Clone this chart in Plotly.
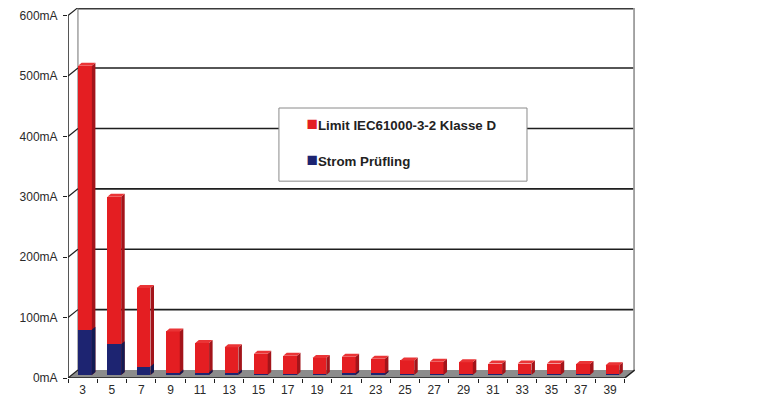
"""Harmonic currents vs. IEC61000-3-2 class D limit, drawn as pseudo-3D columns."""

import plotly.graph_objects as go

# Data
harmonics = [3, 5, 7, 9, 11, 13, 15, 17, 19, 21, 23, 25, 27, 29, 31, 33, 35, 37, 39]
limit_ma = [512, 295, 144, 72, 53, 46, 35, 32, 28, 30, 27, 24, 22, 21, 19, 19, 19, 18, 16]
strom_ma = [75, 51, 14, 4, 4, 4, 1, 1, 1, 3, 2, 1, 1, 1, 1, 1, 1, 1, 1]
y_ticks = [0, 100, 200, 300, 400, 500, 600]

# Pseudo-3D geometry (in axis units)
depth_x = 0.34      # floor / back wall offset to the right
depth_y = 13.2      # floor / back wall offset upward (mA)
bar_w = 0.47
bar_shift = 0.08
bar_base = 5.0
side_dx = 0.12
side_dy = 5.0
x_max = 18.85
y_max = 612.6

idx = list(range(len(harmonics)))
xc = [i + bar_shift for i in idx]


def side_faces(values):
    xs, ys = [], []
    for x, v in zip(xc, values):
        xr = x + bar_w / 2
        top = bar_base + v
        xs += [xr, xr + side_dx, xr + side_dx, xr, xr, None]
        ys += [bar_base, bar_base + side_dy, top + side_dy, top, bar_base, None]
    return xs, ys


def top_faces(values):
    xs, ys = [], []
    for x, v in zip(xc, values):
        xl, xr = x - bar_w / 2, x + bar_w / 2
        top = bar_base + v
        xs += [xl, xr, xr + side_dx, xl + side_dx, xl, None]
        ys += [top, top, top + side_dy, top + side_dy, top, None]
    return xs, ys


red, red_side, red_top = "#e41e22", "#a3141a", "#ea3436"
blue, blue_side = "#1d2471", "#131a52"

fig = go.Figure()

fig.add_trace(go.Bar(
    x=xc, y=limit_ma, base=bar_base, width=bar_w,
    marker=dict(color=red, line=dict(width=0)),
    legendgroup="limit", showlegend=False,
    customdata=harmonics, hovertemplate="H%{customdata}: %{y} mA<extra></extra>",
))
sx, sy = side_faces(limit_ma)
fig.add_trace(go.Scatter(x=sx, y=sy, fill="toself", fillcolor=red_side, mode="lines",
                         line=dict(width=0), legendgroup="limit", showlegend=False,
                         hoverinfo="skip"))
tx, ty = top_faces(limit_ma)
fig.add_trace(go.Scatter(x=tx, y=ty, fill="toself", fillcolor=red_top, mode="lines",
                         line=dict(width=0), legendgroup="limit", showlegend=False,
                         hoverinfo="skip"))

fig.add_trace(go.Bar(
    x=xc, y=strom_ma, base=bar_base, width=bar_w,
    marker=dict(color=blue, line=dict(width=0)),
    legendgroup="strom", showlegend=False,
    customdata=harmonics, hovertemplate="H%{customdata}: %{y} mA<extra></extra>",
))
sx, sy = side_faces(strom_ma)
fig.add_trace(go.Scatter(x=sx, y=sy, fill="toself", fillcolor=blue_side, mode="lines",
                         line=dict(width=0), legendgroup="strom", showlegend=False,
                         hoverinfo="skip"))

# legend entries (square drawn in the text, right next to the label)
sq = "<span style='color:{};font-size:19px'>■</span>"
fig.add_trace(go.Scatter(
    x=[None], y=[None], mode="markers", legendgroup="limit",
    name=sq.format(red) + "Limit IEC61000-3-2 Klasse D",
    marker=dict(symbol="square", size=1, color="rgba(0,0,0,0)")))
fig.add_trace(go.Scatter(
    x=[None], y=[None], mode="markers", legendgroup="strom",
    name=sq.format(blue) + "Strom Prüfling",
    marker=dict(symbol="square", size=1, color="rgba(0,0,0,0)")))

shapes = []
# floor
shapes.append(dict(type="path", xref="x", yref="y", layer="below",
                   path=f"M -0.5,0 L 18.5,0 L {18.5 + depth_x},{depth_y} L {-0.5 + depth_x},{depth_y} Z",
                   fillcolor="#8c8c8c", line=dict(width=0)))
# back wall grid lines
for v in y_ticks[1:-1]:
    shapes.append(dict(type="line", xref="x", yref="y", layer="below",
                       x0=-0.5 + depth_x, x1=x_max, y0=v + depth_y, y1=v + depth_y,
                       line=dict(color="#1e1e1e", width=1.6)))
shapes.append(dict(type="line", xref="x", yref="y", layer="below",
                   x0=-0.5 + depth_x, x1=x_max, y0=y_max - 0.8, y1=y_max - 0.8,
                   line=dict(color="#3a3a3a", width=2)))
# back wall left and right edges
shapes.append(dict(type="line", xref="x", yref="y", layer="below",
                   x0=-0.5 + depth_x, x1=-0.5 + depth_x, y0=depth_y, y1=y_max,
                   line=dict(color="#707070", width=1)))
shapes.append(dict(type="line", xref="x", yref="y", layer="below",
                   x0=x_max - 0.03, x1=x_max - 0.03, y0=depth_y, y1=y_max,
                   line=dict(color="#a0a0a0", width=2)))
# front axes
shapes.append(dict(type="line", xref="x", yref="y", x0=-0.5, x1=-0.5, y0=0, y1=600,
                   line=dict(color="#1e1e1e", width=1.5)))
shapes.append(dict(type="line", xref="x", yref="y", x0=-0.5, x1=18.5, y0=0, y1=0,
                   line=dict(color="#1e1e1e", width=1.5)))
shapes.append(dict(type="line", xref="x", yref="y", x0=18.5, x1=18.5 + depth_x, y0=0, y1=depth_y,
                   line=dict(color="#1e1e1e", width=1.5)))
for v in y_ticks:
    shapes.append(dict(type="line", xref="x", yref="y", x0=-0.5, x1=-0.5 + depth_x,
                       y0=v, y1=v + depth_y, line=dict(color="#1e1e1e", width=1.2)))
# legend box
shapes.append(dict(type="rect", xref="paper", yref="paper", layer="above",
                   x0=0.372, x1=0.8095, y0=0.532, y1=0.7297,
                   fillcolor="white", line=dict(color="#8a8a8a", width=1)))

# page body keeps its default 8px margin, so the figure is 8px smaller
fig.update_layout(
    width=768, height=392,
    margin=dict(l=60, r=141, t=0, b=22),
    paper_bgcolor="white", plot_bgcolor="white",
    barmode="overlay",
    bargap=0,
    font=dict(family="Arial, Liberation Sans, sans-serif", size=12, color="#2a2a2a"),
    shapes=shapes,
    showlegend=True,
    legend=dict(
        x=0.35, y=0.725, xanchor="left", yanchor="top",
        bgcolor="rgba(0,0,0,0)", borderwidth=0,
        font=dict(size=13.3, color="#222", weight="bold"),
        traceorder="grouped", tracegroupgap=16,
        itemwidth=30,
    ),
    xaxis=dict(
        range=[-0.5, x_max], tickmode="array", tickvals=idx,
        ticktext=[str(h) for h in harmonics],
        showgrid=False, zeroline=False, showline=False, ticks="",
        ticklabelstandoff=3,
        minor=dict(tickmode="array", tickvals=[i + 0.5 for i in [-1] + idx],
                   ticks="outside", ticklen=4, tickcolor="#1e1e1e", showgrid=False),
        fixedrange=True,
    ),
    yaxis=dict(
        range=[0, y_max], tickmode="array", tickvals=y_ticks,
        ticktext=[f"{v}mA" for v in y_ticks],
        showgrid=False, zeroline=False, showline=False,
        ticks="outside", ticklen=4, tickcolor="#1e1e1e",
        ticklabelstandoff=3,
        fixedrange=True,
    ),
)

fig.write_html("out.html")
